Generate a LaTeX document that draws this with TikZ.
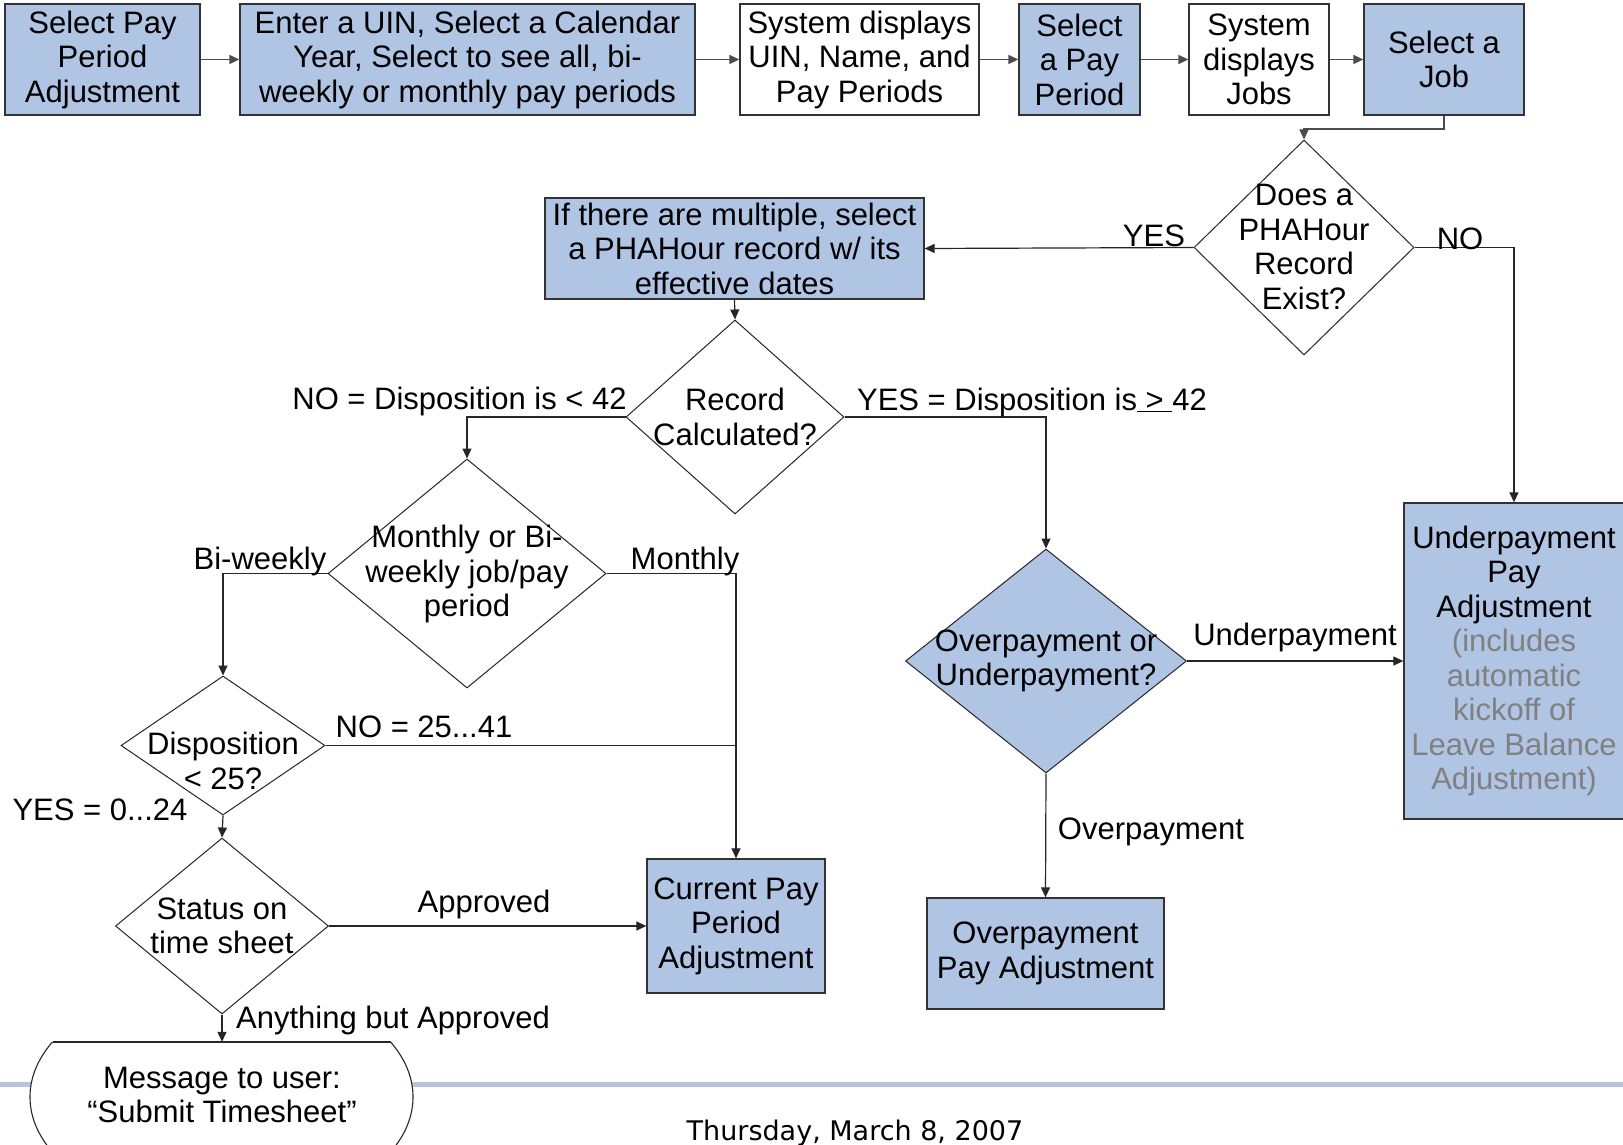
\documentclass[tikz,border=0pt]{standalone}
\usepackage{fontspec}
\setmainfont{Liberation Sans}
\newfontfamily\datefont{DejaVu Sans}
\usetikzlibrary{shapes.geometric,arrows.meta}
\definecolor{boxblue}{HTML}{B0C4E4}
\definecolor{bandcol}{HTML}{B8C4DC}
\definecolor{graytxt}{HTML}{808080}
\begin{document}
\begin{tikzpicture}[x=1pt,y=-1pt,
  every node/.style={font=\fontsize{31}{34.5}\selectfont},
  pbox/.style={draw=black!80, line width=1.3pt, fill=boxblue, align=center, inner sep=0pt},
  wbox/.style={pbox, fill=white},
  dia/.style={diamond, draw=black!85, line width=1pt, inner sep=0pt},
  conn/.style={line width=1.2pt, draw=black!85},
  topconn/.style={line width=1.6pt, draw=black!70, -{Triangle[length=10pt,width=9pt]}},
  arr/.style={conn, -{Triangle[length=10pt,width=9pt]}},
  lbl/.style={inner sep=0pt, align=center, yshift=-3.5pt},
  dtext/.style={inner sep=0pt, align=center, yshift=-1pt}
]
\useasboundingbox (0,0) rectangle (1623,1145);
\fill[white] (0,0) rectangle (1623,1145);

% footer band
\fill[bandcol] (0,1082) rectangle (1623,1087);

% top row
\node[pbox, minimum width=195, minimum height=111] (b1) at (102.5,59.5) {Select Pay\\Period\\Adjustment};
\node[pbox, minimum width=455, minimum height=111] (b2) at (467.5,59.5) {Enter a UIN, Select a Calendar\\Year, Select to see all, bi-\\weekly or monthly pay periods};
\node[wbox, minimum width=239, minimum height=111] (b3) at (859.5,59.5) {System displays\\UIN, Name, and\\Pay Periods};
\node[pbox, minimum width=121, minimum height=111] (b4) at (1079.5,59.5) {Select\\a Pay\\Period};
\node[wbox, minimum width=140, minimum height=111] (b5) at (1259,59.5) {System\\displays\\Jobs};
\node[pbox, minimum width=160, minimum height=111] (b6) at (1444,59.5) {Select a\\Job};

\draw[topconn] (b1.east) -- (b2.west);
\draw[topconn] (b2.east) -- (b3.west);
\draw[topconn] (b3.east) -- (b4.west);
\draw[topconn] (b4.east) -- (b5.west);
\draw[topconn] (b5.east) -- (b6.west);

% diamonds
\node[dia, minimum width=220, minimum height=215] (d1) at (1304,247.5) {};
\node[dtext] at (1304,246) {Does a\\PHAHour\\Record\\Exist?};
\node[dia, minimum width=218, minimum height=194] (d2) at (735,417) {};
\node[dtext] at (735,416) {Record\\Calculated?};
\node[dia, minimum width=278, minimum height=229] (d3) at (467,573.5) {};
\node[dtext] at (467,573) {Monthly or Bi-\\weekly job/pay\\period};
\node[dia, fill=boxblue, minimum width=281, minimum height=224] (d4) at (1046,661) {};
\node[dtext] at (1046,660) {Overpayment or\\Underpayment?};
\node[dia, minimum width=204, minimum height=139] (d5) at (223,745.5) {};
\node[dtext] at (223,760) {Disposition\\< 25?};
\node[dia, minimum width=213, minimum height=176] (d6) at (222,926) {};
\node[dtext] at (222,925) {Status on\\time sheet};

% other boxes
\node[pbox, minimum width=379, minimum height=101] (bm) at (734.5,248.5) {If there are multiple, select\\a PHAHour record w/ its\\effective dates};
\node[pbox, minimum width=178, minimum height=134] (bc) at (736,926) {Current Pay\\Period\\Adjustment};
\node[pbox, minimum width=237, minimum height=111] (bo) at (1045.5,953.5) {Overpayment\\Pay Adjustment};
\node[pbox, minimum width=220, minimum height=316] (bu) at (1514,661) {Underpayment\\Pay\\Adjustment\\\textcolor{graytxt}{(includes}\\\textcolor{graytxt}{automatic}\\\textcolor{graytxt}{kickoff of}\\\textcolor{graytxt}{Leave Balance}\\\textcolor{graytxt}{Adjustment)}};

% message shape
\begin{scope}
  \clip (0,1042) rectangle (460,1145);
  \fill[white] (221.5,1097) ellipse [x radius=191.5, y radius=117];
  \draw[black!85, line width=1.1pt] (221.5,1097) ellipse [x radius=191.5, y radius=117];
\end{scope}
\draw[black!85, line width=1.6pt] (52.5,1042) -- (390.5,1042);
\node[inner sep=0pt, align=center, minimum height=106] (msg) at (222,1095) {Message to user:\\\char"201CSubmit Timesheet\char"201D};

% connectors
\coordinate (j1) at (1444,129);
\draw[topconn] (b6.south) -- (j1) -| (d1.north);
\draw[arr] (d1.west) -- (bm.east);
\draw[arr] (d1.east) -| (bu.north);
\draw[arr] (bm.south) -- (d2.north);
\draw[arr] (d2.west) -| (d3.north);
\draw[arr] (d2.east) -| (d4.north);
\draw[arr] (d3.west) -| (d5.north);
\draw[arr] (d3.east) -| (bc.north);
\coordinate (j2) at (736,745.5);
\draw[conn] (d5.east) -- (j2);
\draw[arr] (d5.south) -- (d6.north);
\draw[arr] (d6.east) -- (bc.west);
\draw[arr] (d6.south) -- (msg.north);
\draw[arr] (d4.east) -- (bu.west);
\draw[arr] (d4.south) -- (bo.north);

% labels
\node[lbl] at (1154,232) {YES};
\node[lbl] at (1460,235) {NO};
\node[lbl] at (459.5,397.5) {NO = Disposition is < 42};
\node[lbl] at (1032,398.5) {YES = Disposition is\underline{\ >\ }42};
\node[lbl] at (260,558) {Bi-weekly};
\node[lbl] at (685,558) {Monthly};
\node[lbl] at (424,723) {NO = 25...41};
\node[lbl] at (100,806) {YES = 0...24};
\node[lbl] at (484,901) {Approved};
\node[lbl] at (393,1017) {Anything but Approved};
\node[lbl] at (1295,634) {Underpayment};
\node[lbl] at (1151,828) {Overpayment};

% date
\node[lbl, font=\datefont\fontsize{27}{30}\selectfont] at (855,1130) {Thursday, March 8, 2007};
\end{tikzpicture}
\end{document}
